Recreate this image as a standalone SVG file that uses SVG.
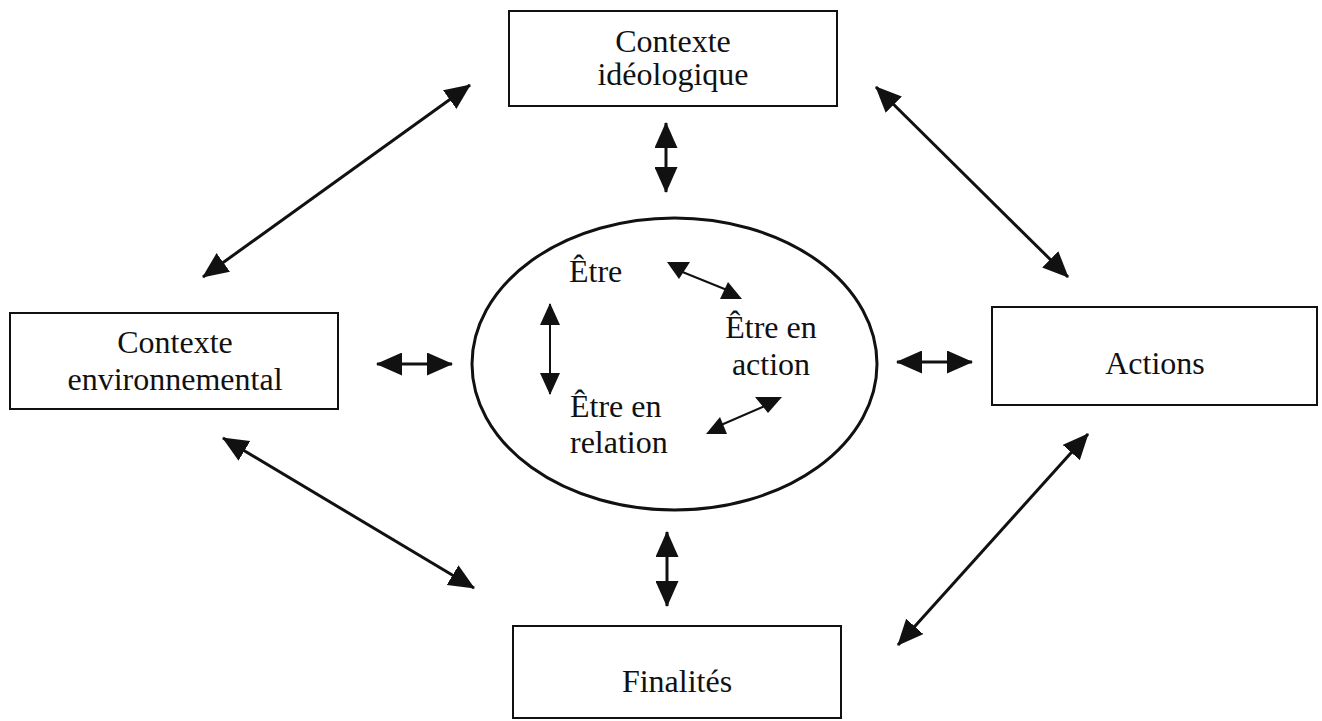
<svg xmlns="http://www.w3.org/2000/svg" width="1322" height="721" viewBox="0 0 1322 721">
  <style>
    .box { fill: #ffffff; stroke: #111111; stroke-width: 2; }
    .ring { fill: #ffffff; stroke: #111111; stroke-width: 3; }
    .lbl { font-family: "Liberation Serif", "Times New Roman", serif; font-size: 32px; fill: #111111; }
    .mid { text-anchor: middle; }
    .link { stroke: #111111; stroke-width: 3; fill: none; marker-start: url(#head); marker-end: url(#head); }
    .thin { stroke: #111111; stroke-width: 2; fill: none; }
    .tip { fill: #111111; }
  </style>
  <defs>
    <marker id="head" markerUnits="userSpaceOnUse" viewBox="0 0 26 23" markerWidth="26" markerHeight="23" refX="25" refY="11.5" orient="auto-start-reverse">
      <path d="M0,0 L26,11.5 L0,23 z" fill="#111111"/>
    </marker>
    <marker id="headS" markerUnits="userSpaceOnUse" viewBox="0 0 22 20" markerWidth="22" markerHeight="20" refX="21" refY="10" orient="auto-start-reverse">
      <path d="M0,0 L22,10 L0,20 z" fill="#111111"/>
    </marker>
  </defs>

  <rect width="1322" height="721" fill="#ffffff"/>

  <!-- connectors between the outer boxes and the central ellipse -->
  <g id="connectors">
    <line class="link" x1="203" y1="277" x2="470" y2="85"/>
    <line class="link" x1="876" y1="87" x2="1068" y2="277"/>
    <line class="link" x1="223" y1="438" x2="474" y2="588"/>
    <line class="link" x1="898" y1="645" x2="1088" y2="434"/>
    <line class="link" x1="666" y1="123" x2="666" y2="192"/>
    <line class="link" x1="667" y1="532" x2="667" y2="606"/>
    <line class="link" x1="377" y1="364" x2="452" y2="364"/>
    <line class="link" x1="897" y1="362" x2="972" y2="362"/>
  </g>

  <g id="contexte-ideologique">
    <rect class="box" x="509" y="11" width="328" height="95"/>
    <text class="lbl mid" x="673" y="52">Contexte</text>
    <text class="lbl mid" x="673" y="85">idéologique</text>
  </g>

  <g id="contexte-environnemental">
    <rect class="box" x="10" y="313" width="328" height="96"/>
    <text class="lbl mid" x="175" y="353">Contexte</text>
    <text class="lbl mid" x="175" y="390">environnemental</text>
  </g>

  <g id="actions">
    <rect class="box" x="992" y="307" width="325" height="98"/>
    <text class="lbl mid" x="1155" y="374">Actions</text>
  </g>

  <g id="finalites">
    <rect class="box" x="513" y="626" width="328" height="92"/>
    <text class="lbl mid" x="677" y="692">Finalités</text>
  </g>

  <!-- central ellipse with its three inner notions -->
  <g id="etre-ensemble">
    <ellipse class="ring" cx="674.5" cy="364" rx="202.5" ry="146"/>
    <text class="lbl" x="569" y="282">Être</text>
    <text class="lbl mid" x="771" y="338">Être en</text>
    <text class="lbl mid" x="771" y="375">action</text>
    <text class="lbl" x="570" y="417">Être en</text>
    <text class="lbl" x="570" y="453">relation</text>
  </g>

  <g id="inner-connectors">
    <line class="thin" x1="550" y1="304" x2="550" y2="394" marker-start="url(#headS)" marker-end="url(#headS)"/>
    <line class="thin" x1="680" y1="271" x2="727" y2="290"/>
    <polygon class="tip" points="667,262 690,262 679,279"/>
    <polygon class="tip" points="720,299 742,299 728,282"/>
    <line class="thin" x1="721" y1="425" x2="767" y2="405"/>
    <polygon class="tip" points="755,397 782,397 768,413"/>
    <polygon class="tip" points="706,434 727,434 720,417"/>
  </g>
</svg>
